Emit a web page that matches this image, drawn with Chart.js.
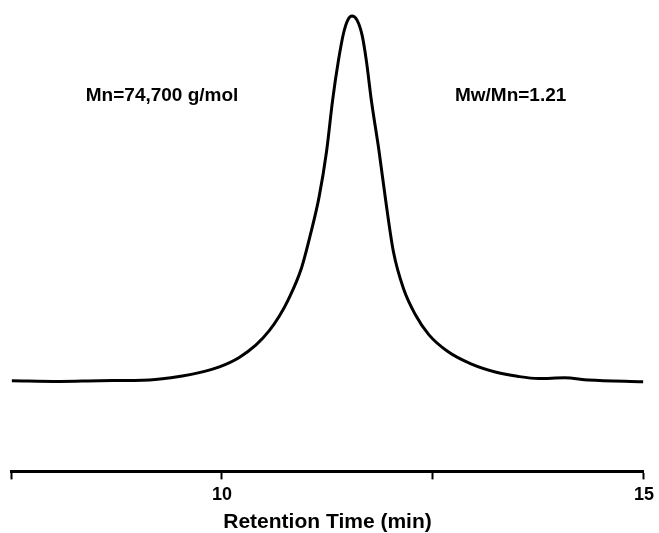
<!DOCTYPE html>
<html>
<head>
<meta charset="utf-8">
<script src="https://cdn.jsdelivr.net/npm/chart.js@4"></script>
<style>
  html, body { margin: 0; padding: 0; background: #fff; }
  #wrap { width: 659px; height: 533px; }
</style>
</head>
<body>
<div id="wrap"><canvas id="gpcChart" width="659" height="533"></canvas></div>
<script>
// retention time (min) and detector signal (normalised, peak = 100)
const retentionTime = [7.51, 8.08, 8.55, 9.14, 9.53, 9.73, 9.97, 10.20, 10.40, 10.56, 10.68, 10.78, 10.94, 11.05, 11.15, 11.24, 11.31, 11.38, 11.44, 11.49, 11.54, 11.60, 11.66, 11.71, 11.77, 11.86, 11.94, 12.03, 12.15, 12.29, 12.45, 12.68, 12.95, 13.25, 13.50, 13.75, 14.06, 14.34, 14.99];
const signal = [0.3, 0.1, 0.3, 0.5, 1.6, 2.5, 4.1, 6.6, 10.0, 14.0, 18.0, 22.2, 31.0, 40.5, 50.5, 63.2, 76.9, 87.9, 95.3, 98.9, 100, 98.9, 94.8, 87.9, 76.9, 63.2, 49.5, 35.7, 25.5, 18.4, 12.9, 8.2, 4.9, 2.6, 1.5, 0.9, 1.1, 0.5, 0];
const xTicks = [7.5, 10, 12.5, 15];
const labelledTicks = [10, 15];

// text notes in data coordinates
const noteText = ['Mn=74,700 g/mol', 'Mw/Mn=1.21'];
const noteX = [9.29, 13.42];
const noteY = [78.3, 78.3];

const points = retentionTime.map((t, i) => ({ x: t, y: signal[i] }));

const notesPlugin = {
    id: 'notes',
    afterDatasetsDraw(chart) {
        const ctx = chart.ctx;
        const xs = chart.scales.x, ys = chart.scales.y;
        ctx.save();
        ctx.font = 'bold 19px "Liberation Sans", Arial, sans-serif';
        ctx.fillStyle = '#000';
        ctx.textAlign = 'center';
        ctx.textBaseline = 'middle';
        noteText.forEach((txt, i) => {
            ctx.fillText(txt, xs.getPixelForValue(noteX[i]), ys.getPixelForValue(noteY[i]));
        });
        ctx.restore();
    }
};

new Chart(document.getElementById('gpcChart').getContext('2d'), {
    type: 'line',
    data: {
        datasets: [{
            data: points,
            borderColor: '#000',
            borderWidth: 3,
            pointRadius: 0,
            fill: false,
            cubicInterpolationMode: 'monotone'
        }]
    },
    options: {
        responsive: false,
        animation: false,
        layout: { padding: { left: 11, right: 13, top: 0, bottom: 0 } },
        plugins: {
            legend: { display: false },
            tooltip: { enabled: false }
        },
        scales: {
            x: {
                type: 'linear',
                min: 7.5,
                max: 15,
                afterBuildTicks(axis) {
                    axis.ticks = xTicks.map(v => ({ value: v }));
                },
                ticks: {
                    autoSkip: false,
                    maxRotation: 0,
                    padding: 5,
                    color: '#000',
                    font: { family: '"Liberation Sans", Arial, sans-serif', size: 18, weight: 'bold' },
                    callback: v => labelledTicks.includes(v) ? String(v) : ''
                },
                grid: {
                    drawOnChartArea: false,
                    drawTicks: true,
                    tickLength: 8,
                    tickColor: '#000',
                    tickWidth: 2
                },
                border: { display: true, color: '#000', width: 3 },
                title: {
                    display: true,
                    text: 'Retention Time (min)',
                    color: '#000',
                    padding: { top: 1, bottom: 0 },
                    font: { family: '"Liberation Sans", Arial, sans-serif', size: 21, weight: 'bold', lineHeight: 1.0 }
                }
            },
            y: {
                display: false,
                min: -24.5,
                max: 104.4
            }
        }
    },
    plugins: [notesPlugin]
});
</script>
</body>
</html>
